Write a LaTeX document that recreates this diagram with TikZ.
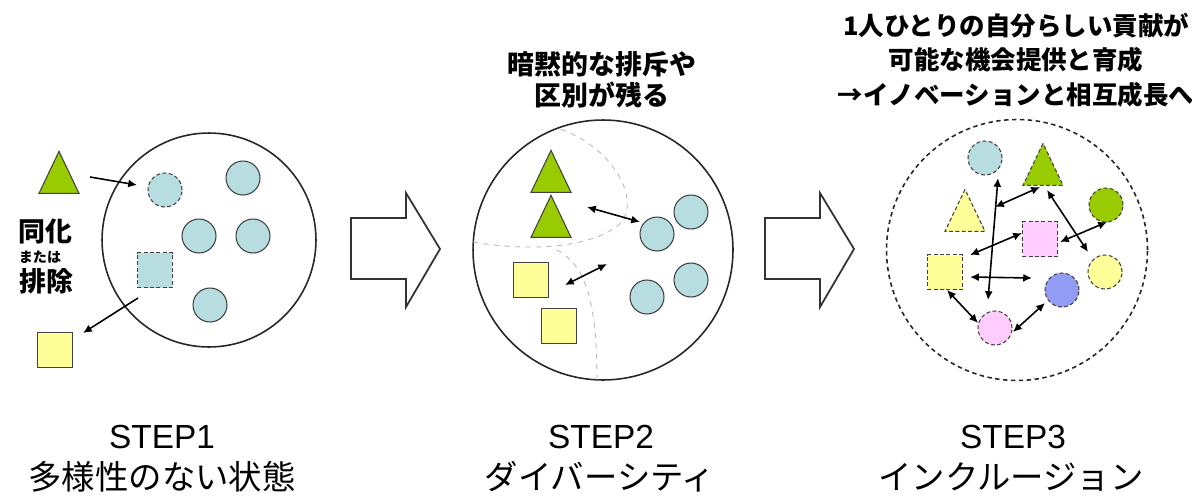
\documentclass[tikz,border=0pt]{standalone}
\usepackage{fontspec}
\setmainfont{Liberation Sans}
\newfontfamily\jpfont{Noto Sans CJK JP}
\usepackage{tikz}
\usepackage{xcolor}
\usetikzlibrary{shapes.geometric, arrows, arrows.meta, positioning}

\definecolor{sky}{RGB}{183,221,224}
\definecolor{leaf}{RGB}{153,204,0}
\definecolor{lemon}{RGB}{255,255,153}
\definecolor{rose}{RGB}{255,204,255}
\definecolor{iris}{RGB}{146,156,245}

\begin{document}
\begin{tikzpicture}[
    x=0.02cm, y=-0.02cm,
    every node/.style={inner sep=0pt},
    pool/.style={circle, draw=black!85, line width=0.9pt},
    blob/.style={circle, draw=black!75, line width=0.6pt, minimum size=0.68cm},
    tile/.style={rectangle, draw=black!75, line width=0.6pt, minimum size=0.7cm},
    cone/.style={isosceles triangle, isosceles triangle stretches, shape border rotate=90,
        draw=black!75, line width=0.6pt, minimum width=0.8cm, minimum height=0.84cm, anchor=apex},
    dashy/.style={dash pattern=on 2.2pt off 1.4pt},
    link/.style={{Latex[length=5pt,width=4.6pt]}-{Latex[length=5pt,width=4.6pt]}, line width=0.9pt},
    push/.style={-{Latex[length=5pt,width=4.6pt]}, line width=0.9pt},
    note/.style={font=\jpfont\bfseries\fontsize{15.3}{17.6}\selectfont, align=center},
    steplabel/.style={font=\fontsize{19}{22}\selectfont},
    stagename/.style={font=\jpfont\fontsize{19}{22}\selectfont}
]
\useasboundingbox (0,0) rectangle (1192,497);

% STEP1
\node (pool1) [pool, minimum size=4.28cm] at (209,240) {};
\node (b11) [blob, dashy, fill=sky] at (165,190) {};
\node (b12) [blob, fill=sky] at (243,178) {};
\node (b13) [blob, fill=sky] at (199,236) {};
\node (b14) [blob, fill=sky] at (253,236) {};
\node (b15) [blob, fill=sky] at (210,305) {};
\node (t11) [tile, dashy, fill=sky] at (155,270) {};
\node (cone1) [cone, fill=leaf] at (59,150) {};
\node (tile1) [tile, fill=lemon] at (55,350) {};
\node (merge) [font=\jpfont\bfseries\fontsize{15.3}{17}\selectfont] at (45,231) {同化};
\node (orword) [font=\jpfont\bfseries\fontsize{8}{9}\selectfont] at (40,257) {または};
\node (drop) [font=\jpfont\bfseries\fontsize{15.3}{17}\selectfont] at (46,281) {排除};
\coordinate (in1) at (90,177);
\coordinate (in2) at (137,185);
\coordinate (out1) at (138,298);
\coordinate (out2) at (83,333);
\draw [push] (in1) -- (in2);
\draw [push] (out1) -- (out2);

% big arrows
\foreach \bx in {351,765}
    \draw [draw=black!80, line width=1pt] (\bx,218) -- ++(55,0) -- ++(0,-25) -- ++(34,56)
        -- ++(-34,58) -- ++(0,-28) -- ++(-55,0) -- cycle;

% STEP2
\node (note2) [note] at (602,80) {暗黙的な排斥や\\区別が残る};
\node (pool2) [pool, minimum size=5.2cm] at (603,250) {};
\draw [gray!55, dashed, line width=0.5pt] (473,242) .. controls (530,252) and (595,248) .. (622,222)
    .. controls (640,195) and (610,145) .. (557,128);
\draw [gray!55, dashed, line width=0.5pt] (557,250) .. controls (585,265) and (597,300) .. (597,380);
\node (g1) [cone, fill=leaf] at (551,149) {};
\node (g2) [cone, fill=leaf] at (551,194) {};
\node (g3) [tile, fill=lemon] at (531,280) {};
\node (g4) [tile, fill=lemon] at (559,326) {};
\node (g5) [blob, fill=sky] at (657,234) {};
\node (g6) [blob, fill=sky] at (691,212) {};
\node (g7) [blob, fill=sky] at (647,297) {};
\node (g8) [blob, fill=sky] at (691,280) {};
\coordinate (d1a) at (587,207);
\coordinate (d1b) at (640,222);
\coordinate (d2a) at (565,285);
\coordinate (d2b) at (607,264);
\draw [link] (d1a) -- (d1b);
\draw [link] (d2a) -- (d2b);

% STEP3
\node (note3) [note, font=\jpfont\bfseries\fontsize{14.5}{19.6}\selectfont] at (1016,60)
    {1人ひとりの自分らしい貢献が\\可能な機会提供と育成\\→イノベーションと相互成長へ};
\node (pool3) [pool, dash pattern=on 2.5pt off 2pt, minimum size=5.22cm] at (1017,250) {};
\node (f1) [blob, dashy, fill=sky] at (985,158) {};
\node (f2) [cone, dashy, fill=leaf] at (1043,142) {};
\node (f3) [cone, dashy, fill=lemon] at (965,188) {};
\node (f4) [blob, dashy, fill=leaf] at (1106,205) {};
\node (f5) [tile, dashy, fill=rose] at (1040,239) {};
\node (f6) [tile, dashy, fill=lemon] at (945,272) {};
\node (f7) [blob, dashy, fill=lemon] at (1105,272) {};
\node (f8) [blob, dashy, fill=iris] at (1062,290) {};
\node (f9) [blob, dashy, fill=rose] at (995,328) {};
\coordinate (e1a) at (998,178);   \coordinate (e1b) at (988,300);
\coordinate (e2a) at (995,207);   \coordinate (e2b) at (1040,187);
\coordinate (e3a) at (1047,190);  \coordinate (e3b) at (1088,252);
\coordinate (e4a) at (970,255);   \coordinate (e4b) at (1022,233);
\coordinate (e5a) at (1060,242);  \coordinate (e5b) at (1107,222);
\coordinate (e6a) at (970,277);   \coordinate (e6b) at (1032,278);
\coordinate (e7a) at (947,290);   \coordinate (e7b) at (978,323);
\coordinate (e8a) at (1013,332);  \coordinate (e8b) at (1045,303);
\foreach \e in {e1,e2,e3,e4,e5,e6,e7,e8}
    \draw [link] (\e a) -- (\e b);

% labels
\node (step1) [steplabel] at (162,437) {STEP1};
\node (name1) [stagename] at (162,477) {多様性のない状態};
\node (step2) [steplabel] at (601,437) {STEP2};
\node (name2) [stagename] at (600,477) {ダイバーシティ};
\node (step3) [steplabel] at (1013,437) {STEP3};
\node (name3) [stagename] at (1011,477) {インクルージョン};

\end{tikzpicture}
\end{document}
